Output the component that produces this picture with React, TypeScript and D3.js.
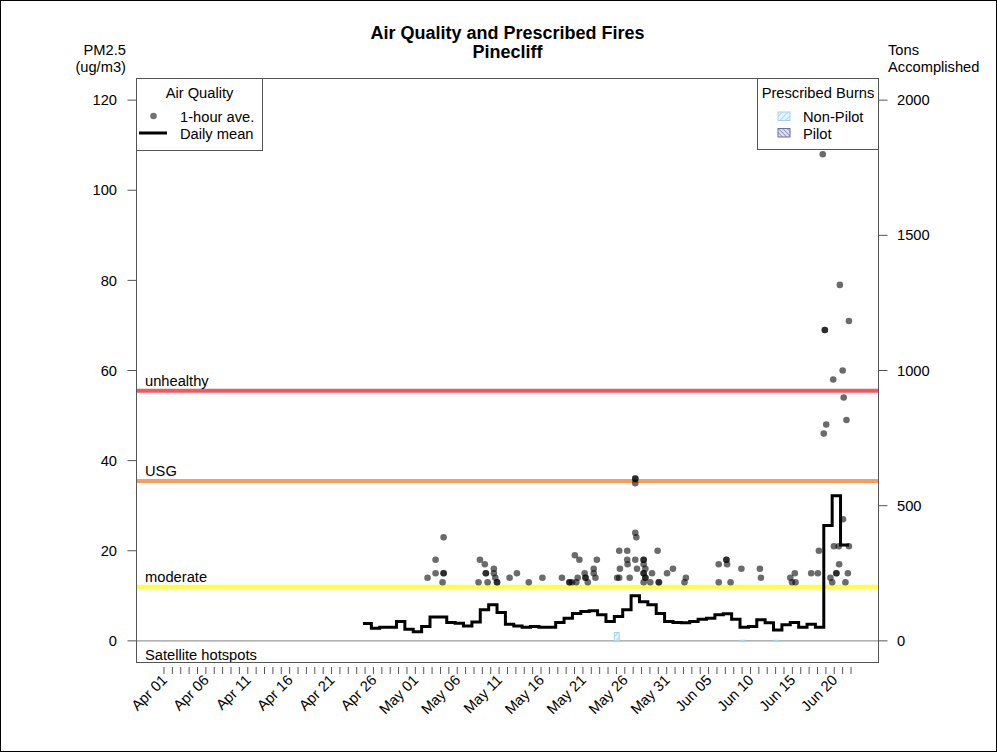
import * as d3 from "d3";

// ---- data ----
const YEAR = 2021;
const chartTitle = "Air Quality and Prescribed Fires";
const siteName = "Pinecliff";

const pmTicks = [0, 20, 40, 60, 80, 100, 120];
const tonTicks = [0, 500, 1000, 1500, 2000];

const xLabels = [
  "Apr 01", "Apr 06", "Apr 11", "Apr 16", "Apr 21", "Apr 26",
  "May 01", "May 06", "May 11", "May 16", "May 21", "May 26", "May 31",
  "Jun 05", "Jun 10", "Jun 15", "Jun 20",
];
const xFirstDay = "04-01";
const xLastDay = "06-22";

const aqiNames = ["unhealthy", "USG", "moderate"];
const aqiLevels = [55.5, 35.5, 12];
const aqiColors = ["#f2595e", "#f89d5c", "#ffff3a"];

// hourly PM2.5 ("MM-DD HH", ug/m3)
const hourly: [string, number][] = [
  ["05-02 11", 14], ["05-03 10", 18], ["05-03 10", 15], ["05-04 09", 23], ["05-04 09", 15], ["05-04 09", 15], ["05-04 06", 13],
  ["05-08 17", 18], ["05-09 07", 17], ["05-09 10", 15], ["05-09 10", 15], ["05-08 13", 13], ["05-09 15", 13], ["05-10 09", 16],
  ["05-10 09", 15], ["05-10 13", 14], ["05-10 18", 13], ["05-10 18", 13],
  ["05-12 06", 14], ["05-13 03", 15], ["05-14 13", 13], ["05-16 04", 14], ["05-18 12", 14], ["05-19 09", 13], ["05-19 10", 13],
  ["05-19 17", 13], ["05-20 01", 19], ["05-20 14", 18], ["05-20 05", 13], ["05-20 09", 14], ["05-21 05", 15], ["05-21 07", 14],
  ["05-21 08", 14], ["05-21 14", 13], ["05-22 07", 16], ["05-22 07", 15], ["05-22 12", 14], ["05-22 16", 18],
  ["05-25 02", 14], ["05-25 08", 20], ["05-25 10", 16], ["05-25 08", 14], ["05-26 07", 20], ["05-26 07", 18], ["05-26 08", 17],
  ["05-26 14", 14],
  ["05-27 06", 36], ["05-27 06", 36], ["05-27 06", 35], ["05-27 06", 24], ["05-27 09", 23], ["05-27 06", 18], ["05-27 11", 16],
  ["05-28 06", 18], ["05-28 06", 18], ["05-28 06", 17], ["05-28 11", 16], ["05-28 06", 15], ["05-28 06", 15], ["05-28 11", 14],
  ["05-28 11", 14], ["05-28 06", 13],
  ["05-29 06", 15], ["05-29 01", 13], ["05-29 22", 20], ["05-30 01", 13], ["05-30 02", 13], ["05-31 01", 15], ["05-31 18", 16],
  ["06-02 03", 13], ["06-02 07", 14],
  ["06-06 05", 17], ["06-06 05", 13], ["06-07 03", 18], ["06-07 03", 18], ["06-07 05", 17], ["06-07 15", 13], ["06-08 22", 16],
  ["06-11 03", 16], ["06-11 06", 14],
  ["06-14 18", 14], ["06-15 07", 15], ["06-14 23", 13], ["06-15 09", 13], ["06-17 06", 15], ["06-18 01", 15], ["06-18 04", 20],
  ["06-18 15", 108], ["06-18 18", 46], ["06-19 01", 48], ["06-18 21", 69], ["06-18 21", 69], ["06-19 21", 58], ["06-19 13", 14],
  ["06-19 18", 13], ["06-19 23", 21], ["06-20 06", 15], ["06-20 06", 15], ["06-20 13", 21], ["06-20 14", 17], ["06-20 16", 79],
  ["06-21 00", 60], ["06-21 01", 27], ["06-21 03", 54], ["06-21 08", 13], ["06-21 11", 49], ["06-21 15", 15], ["06-21 18", 71],
  ["06-21 18", 21],
];

// daily mean PM2.5, one value per day starting Apr 25
const dailyStart = "04-25";
const dailyMean = [
  3.85, 2.8, 3.0, 3.0, 4.3, 2.6,
  2.0, 3.2, 5.3, 5.3, 4.1, 3.9, 3.3, 4.2, 6.9, 8.0, 6.3, 3.7, 3.3, 3.0, 3.2, 3.0, 3.0, 4.1, 5.0, 6.1,
  6.5, 6.7, 5.8, 4.3, 5.4, 6.9, 10.0, 8.7, 8.0, 6.1, 4.3,
  4.1, 4.0, 4.3, 4.8, 5.0, 5.8, 6.0, 4.8, 3.0, 3.2, 4.7, 4.0, 2.4, 3.6, 4.1, 3.0, 3.7, 3.0,
  25.6, 32.2, 21.3, 21.3,
];
const dayShiftHours = -6; // daily steps drawn in local time

// prescribed burns (tons accomplished)
const burnDates = ["05-25", "06-09", "06-13"];
const burnTons = [31, 2, 2];
const burnTypes = ["Non-Pilot", "Non-Pilot", "Non-Pilot"];

// ---- helpers ----
const md = (s: string, h = 0) => {
  const [m, d] = s.split("-").map(Number);
  return new Date(Date.UTC(YEAR, m - 1, d, h));
};
const parseHour = (s: string) => {
  const [day, hh] = s.split(" ");
  return md(day, Number(hh));
};
const parseLabel = d3.utcParse("%b %d %Y");

const W = 997;
const H = 752;
const plot = { left: 136.5, right: 878.5, top: 78.5, bottom: 662.5 };
const FONT = "'Liberation Sans', Arial, Helvetica, sans-serif";
const FS = 14.7;

export default function App() {
  const first = md(xFirstDay);
  const last = md(xLastDay);
  const pad = (last.getTime() - first.getTime()) * 0.04;

  const x = d3
    .scaleUtc()
    .domain([new Date(first.getTime() - pad), new Date(last.getTime() + pad)])
    .range([plot.left, plot.right]);
  const y = d3.scaleLinear().domain([-4.8, 124.8]).range([plot.bottom, plot.top]);
  const yTons = d3.scaleLinear().domain([-80, 2080]).range([plot.bottom, plot.top]);

  const dayTicks = d3.utcDay.range(first, d3.utcDay.offset(last, 1));

  const start = md(dailyStart);
  const daily = dailyMean.map((v, i) => ({
    t: d3.utcHour.offset(d3.utcDay.offset(start, i), dayShiftHours),
    v,
  }));
  const stepLine = d3
    .line<{ t: Date; v: number }>()
    .x((d) => x(d.t))
    .y((d) => y(d.v))
    .curve(d3.curveStepAfter);

  const points = hourly.map(([t, v]) => ({ t: parseHour(t), v }));

  const burns = burnDates.map((d, i) => {
    const day = md(d);
    return {
      x0: x(d3.utcHour.offset(day, -6)),
      x1: x(d3.utcHour.offset(day, 8)),
      tons: burnTons[i],
      type: burnTypes[i],
    };
  });

  return (
    <svg
      width={W}
      height={H}
      style={{ position: "absolute", left: 0, top: 0, background: "#fff" }}
      fontFamily={FONT}
    >
      <defs>
        <pattern id="nonpilot" patternUnits="userSpaceOnUse" width="4" height="4" patternTransform="rotate(45)">
          <rect width="4" height="4" fill="#eaf6fc" />
          <line x1="0" y1="0" x2="0" y2="4" stroke="#8ccbe8" strokeWidth="1.4" />
        </pattern>
        <pattern id="pilot" patternUnits="userSpaceOnUse" width="3" height="3" patternTransform="rotate(-45)">
          <rect width="3" height="3" fill="#e4e4f2" />
          <line x1="0" y1="0" x2="0" y2="3" stroke="#6b6ba8" strokeWidth="1.3" />
        </pattern>
        <clipPath id="plotclip">
          <rect x={plot.left} y={plot.top} width={plot.right - plot.left} height={plot.bottom - plot.top} />
        </clipPath>
      </defs>

      <rect x={0.5} y={0.5} width={W - 1} height={H - 1} fill="#fff" stroke="#000" />

      {/* titles */}
      <text x={(plot.left + plot.right) / 2} y={39} textAnchor="middle" fontWeight="bold" fontSize={18}>
        {chartTitle}
      </text>
      <text x={(plot.left + plot.right) / 2} y={58} textAnchor="middle" fontWeight="bold" fontSize={18}>
        {siteName}
      </text>
      <text x={126} y={55} textAnchor="end" fontSize={FS}>PM2.5</text>
      <text x={126} y={72} textAnchor="end" fontSize={FS}>(ug/m3)</text>
      <text x={888} y={55} fontSize={FS}>Tons</text>
      <text x={888} y={72} fontSize={FS}>Accomplished</text>

      <g clipPath="url(#plotclip)">
        {/* zero line */}
        <line x1={plot.left} x2={plot.right} y1={y(0)} y2={y(0)} stroke="#9a9a9a" strokeWidth={1.2} />

        {/* AQI thresholds */}
        {aqiLevels.map((lv, i) => (
          <g key={aqiNames[i]}>
            <line x1={plot.left} x2={plot.right} y1={y(lv)} y2={y(lv)} stroke={aqiColors[i]} strokeWidth={4} />
            <text x={145} y={y(lv) - 5} fontSize={FS}>{aqiNames[i]}</text>
          </g>
        ))}
        <text x={145} y={660} fontSize={FS}>Satellite hotspots</text>

        {/* prescribed burns */}
        {burns.map((b, i) => (
          <rect
            key={i}
            x={b.x0}
            width={b.x1 - b.x0}
            y={yTons(b.tons)}
            height={Math.max(yTons(0) - yTons(b.tons), 1)}
            fill={b.type === "Pilot" ? "url(#pilot)" : "url(#nonpilot)"}
            stroke={b.type === "Pilot" ? "#6b6ba8" : "#9fd3ec"}
            strokeWidth={1}
          />
        ))}

        {/* hourly points */}
        {points.map((p, i) => (
          <circle key={i} cx={x(p.t)} cy={y(p.v)} r={3.3} fill="#000" fillOpacity={0.58} />
        ))}

        {/* daily mean */}
        <path d={stepLine(daily) ?? ""} fill="none" stroke="#000" strokeWidth={3} strokeLinejoin="miter" />
      </g>

      {/* plot box */}
      <rect
        x={plot.left}
        y={plot.top}
        width={plot.right - plot.left}
        height={plot.bottom - plot.top}
        fill="none"
        stroke="#555"
        strokeWidth={1}
      />

      {/* left axis */}
      {pmTicks.map((t) => (
        <g key={t}>
          <line x1={plot.left - 9} x2={plot.left} y1={y(t)} y2={y(t)} stroke="#555" />
          <text x={117} y={y(t)} dy="0.35em" textAnchor="end" fontSize={FS}>{t}</text>
        </g>
      ))}

      {/* right axis */}
      {tonTicks.map((t) => (
        <g key={t}>
          <line x1={plot.right} x2={plot.right + 9} y1={yTons(t)} y2={yTons(t)} stroke="#555" />
          <text x={897} y={yTons(t)} dy="0.35em" fontSize={FS}>{t}</text>
        </g>
      ))}

      {/* x axis */}
      {dayTicks.map((d, i) => (
        <line key={i} x1={x(d)} x2={x(d)} y1={667} y2={674} stroke="#555" />
      ))}
      {xLabels.map((lab) => {
        const d = parseLabel(`${lab} ${YEAR}`) as Date;
        return (
          <text
            key={lab}
            transform={`translate(${x(d) + 4},${681}) rotate(-45)`}
            textAnchor="end"
            fontSize={FS}
          >
            {lab}
          </text>
        );
      })}

      {/* Air Quality legend */}
      <rect x={136.5} y={78.5} width={126} height={72} fill="#fff" stroke="#555" />
      <text x={199.5} y={98} textAnchor="middle" fontSize={FS}>Air Quality</text>
      <circle cx={153.5} cy={116} r={3.3} fill="#000" fillOpacity={0.55} />
      <text x={180} y={121.5} fontSize={FS}>1-hour ave.</text>
      <line x1={139} x2={167} y1={133} y2={133} stroke="#000" strokeWidth={3} />
      <text x={180} y={139} fontSize={FS}>Daily mean</text>

      {/* Prescribed Burns legend */}
      <rect x={757.5} y={78.5} width={121} height={71} fill="#fff" stroke="#555" />
      <text x={818} y={97.5} textAnchor="middle" fontSize={FS}>Prescribed Burns</text>
      <rect x={778} y={112} width={12} height={8.5} fill="url(#nonpilot)" stroke="#9fd3ec" />
      <text x={803} y={121.5} fontSize={FS}>Non-Pilot</text>
      <rect x={778} y={128.5} width={12} height={8.5} fill="url(#pilot)" stroke="#6b6ba8" />
      <text x={803} y={138.5} fontSize={FS}>Pilot</text>
    </svg>
  );
}
